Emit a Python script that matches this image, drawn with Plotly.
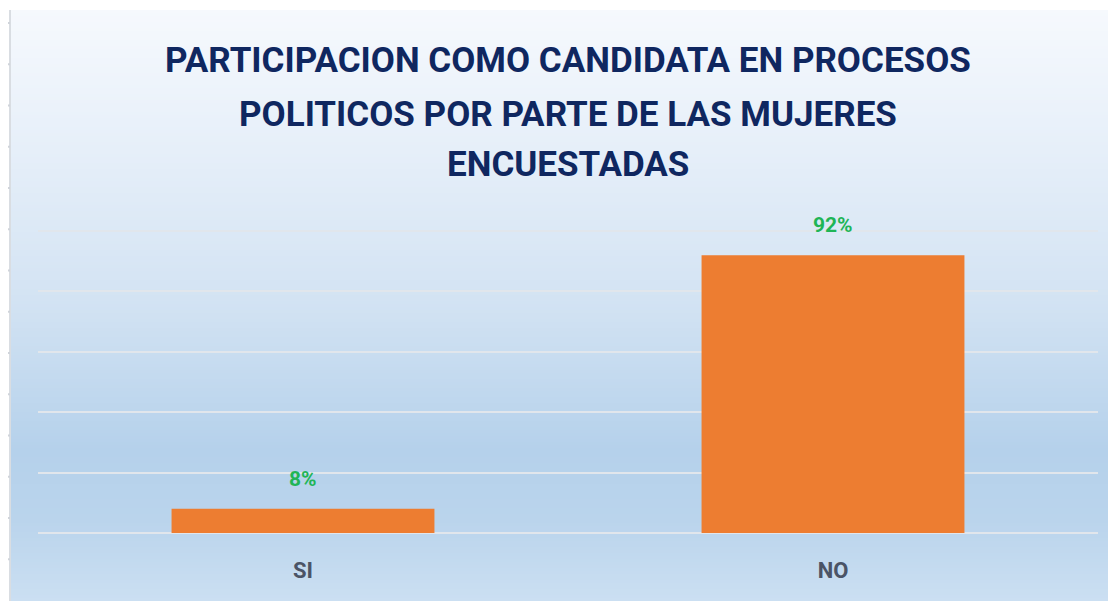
import plotly.graph_objects as go

categories = ["SI", "NO"]
values = [0.08, 0.92]
labels = ["8%", "92%"]
title_lines = ["PARTICIPACION COMO CANDIDATA EN PROCESOS",
               "POLITICOS POR PARTE DE LAS MUJERES",
               "ENCUESTADAS"]

OFF = 8  # page body margin
W, H = 1116 - OFF, 601 - OFF
# target (screen) plot area: x 38..1098, baseline y 533, top y 216
L, R = 38 - OFF, 1116 - 1098
T, B = 216 - OFF, 601 - 533
plot_h = H - T - B
plot_w = W - L - R

def py(ypx):  # screen px -> paper
    return (H - B - (ypx - OFF)) / plot_h

def px(xpx):
    return (xpx - OFF - L) / plot_w

stops = [(10, (246, 249, 253)), (150, (230, 239, 249)), (300, (211, 227, 243)),
         (450, (181, 209, 235)), (520, (186, 212, 236)), (601, (203, 223, 242))]

def col(y):
    for (y0, c0), (y1, c1) in zip(stops[:-1], stops[1:]):
        if y0 <= y <= y1:
            t = (y - y0) / (y1 - y0)
            return "rgb(%d,%d,%d)" % tuple(round(a + (b - a) * t) for a, b in zip(c0, c1))
    return "rgb(%d,%d,%d)" % stops[-1][1]

shapes = []
step = 3
for y in range(10, 601, step):
    shapes.append(dict(type="rect", xref="paper", yref="paper",
                       x0=px(11), x1=px(1120), y0=py(y + step + 0.5), y1=py(y),
                       fillcolor=col(y + step / 2), line=dict(width=0), layer="below"))
shapes.append(dict(type="line", xref="paper", yref="paper", x0=px(10), x1=px(10),
                   y0=py(605), y1=py(10), line=dict(color="#D9DDE2", width=2), layer="below"))
for i in range(14):
    yy = 23 + i * 41.25
    shapes.append(dict(type="line", xref="paper", yref="paper", x0=px(7), x1=px(10),
                       y0=py(yy), y1=py(yy), line=dict(color="#D0D4DA", width=2), layer="below"))

FONT = "Roboto, 'Open Sans', sans-serif"

fig = go.Figure(go.Bar(
    x=categories, y=values,
    marker=dict(color="#ED7D31", line=dict(width=0)),
    width=0.496, hoverinfo="x+y",
))

for c, v, t in zip(categories, values, labels):
    fig.add_annotation(x=c, y=v, text="<b>%s</b>" % t, showarrow=False,
                       xanchor="center", yanchor="middle", yshift=30,
                       font=dict(family=FONT, size=21, color="#1FB556"))

fig.update_layout(
    width=W, height=H,
    margin=dict(l=L, r=R, t=T, b=B, autoexpand=False),
    paper_bgcolor="white", plot_bgcolor="rgba(0,0,0,0)",
    shapes=shapes, showlegend=False,
    xaxis=dict(showgrid=False, showline=False, ticks="", ticklabelstandoff=22,
               tickfont=dict(family=FONT, size=22, color="#4B5466", weight="bold"),
               range=[-0.5, 1.5]),
    yaxis=dict(range=[0, 1.05], dtick=0.2, showticklabels=False, showgrid=True,
               gridcolor="#E1E6EC", gridwidth=2, zeroline=True, zerolinecolor="#E1E6EC", zerolinewidth=2,
               showline=False),
)

title_y = [61, 114, 165]
for line, yy in zip(title_lines, title_y):
    fig.add_annotation(text="<b>%s</b>" % line, xref="paper", yref="paper",
                       x=px(568), y=py(yy), showarrow=False, xanchor="center", yanchor="middle",
                       font=dict(family=FONT, size=35, color="#0F2760"))

fig.write_html("out.html")
